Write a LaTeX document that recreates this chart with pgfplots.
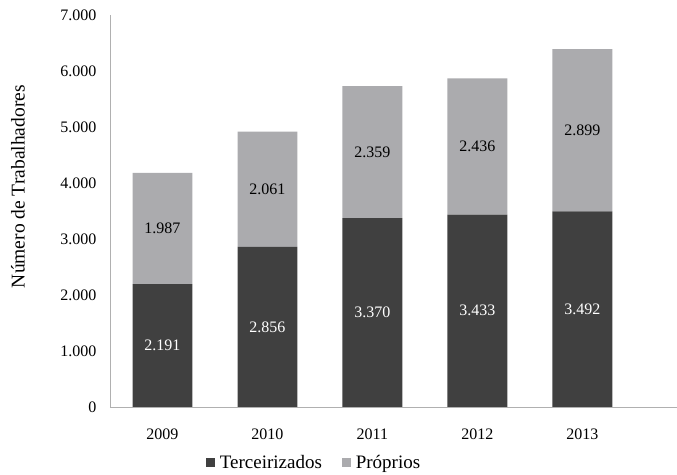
\documentclass[border=0pt]{standalone}
\usepackage{fontspec}
\setmainfont{Liberation Serif}
\usepackage{pgfplots}
\usepackage{pgfplotstable}
\pgfplotsset{compat=1.18}
\definecolor{terc}{HTML}{404040}
\definecolor{prop}{HTML}{ABABAE}
\definecolor{axgray}{HTML}{B0B0B0}

\pgfplotstableread{
x terc prop
0 2191 1987
1 2856 2061
2 3370 2359
3 3433 2436
4 3492 2899
}\workers

\begin{document}
\begin{tikzpicture}
\begin{axis}[
    scale only axis,
    width=567pt, height=392pt,
    ybar stacked,
    bar width=0.57,
    xmin=-0.5, xmax=4.9,
    ymin=0, ymax=7000,
    xtick={0,...,4},
    xticklabels={2009,2010,2011,2012,2013},
    ytick={0,1000,...,7000},
    axis lines*=left,
    axis line style={axgray},
    tick style={draw=none},
    /pgf/number format/.cd, fixed, precision=0, 1000 sep={.}, assume math mode=true,
    /pgfplots/.cd,
    ticklabel style={font=\fontsize{16}{18}\selectfont},
    yticklabel style={xshift=-10pt},
    xticklabel style={yshift=-18pt},
    ylabel={Número de Trabalhadores},
    every axis y label/.style={at={(axis description cs:0,0.562)}, xshift=-92pt,
        rotate=90, anchor=center, font=\fontsize{19.5}{22}\selectfont},
    point meta=explicit,
    nodes near coords,
    every node near coord/.append style={anchor=center,
        font=\fontsize{16}{18}\selectfont},
    legend columns=2,
    legend style={at={(0.36,-0.143)}, anchor=center, draw=none,
        font=\fontsize{19}{21}\selectfont},
    legend image code/.code={\fill[#1] (0pt,-4.5pt) rectangle (9pt,4.5pt); \path (12pt,0pt);},
]
\addplot[fill=terc, draw=none, every node near coord/.append style={white}]
    table[x=x, y=terc, meta=terc] {\workers};
\addplot[fill=prop, draw=none, every node near coord/.append style={black}]
    table[x=x, y=prop, meta=prop] {\workers};
\legend{Terceirizados\hspace*{18pt}\mbox{}, Próprios}
\end{axis}
\path ([shift={(-110pt,-68pt)}]current axis.south west)
      ([shift={(0pt,15pt)}]current axis.north east);
\end{tikzpicture}
\end{document}
